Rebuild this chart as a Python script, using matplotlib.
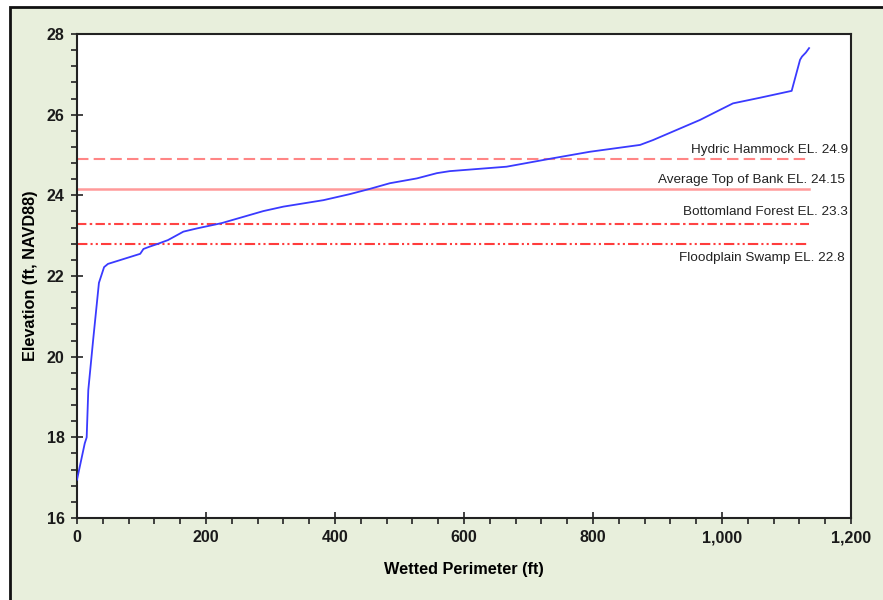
import matplotlib
matplotlib.use("Agg")
import matplotlib.pyplot as plt
from matplotlib.patches import Rectangle
from matplotlib.ticker import MultipleLocator, FuncFormatter

plt.rcParams['font.family'] = ['Liberation Sans', 'DejaVu Sans']

# wetted perimeter (ft) vs elevation (ft, NAVD88)
perimeter = [0, 12, 15, 17.5, 25, 34, 42, 48, 98, 103, 113, 124, 141, 165, 186,
             224, 289, 320, 382, 423, 454, 485, 527, 558, 578, 666, 738, 795,
             873, 893, 966, 997, 1017, 1059, 1108, 1121, 1124, 1130, 1135]
elevation = [16.95, 17.85, 18.0, 19.17, 20.41, 21.83, 22.22, 22.3, 22.55, 22.67,
             22.73, 22.79, 22.89, 23.1, 23.18, 23.31, 23.61, 23.72, 23.88, 24.03,
             24.16, 24.3, 24.42, 24.55, 24.6, 24.71, 24.92, 25.08, 25.25, 25.37,
             25.87, 26.12, 26.28, 26.42, 26.59, 27.36, 27.44, 27.54, 27.65]

# reference elevations
ref_names = ['Hydric Hammock EL. 24.9', 'Average Top of Bank EL. 24.15',
             'Bottomland Forest EL. 23.3', 'Floodplain Swamp EL. 22.8']
ref_levels = [24.9, 24.15, 23.3, 22.8]
ref_end = [1130, 1135, 1135, 1132]
ref_label_y = [25.12, 24.38, 23.58, 22.45]
ref_label_x = [1195, 1190, 1195, 1190]
ref_colors = ['#ff8585', '#ff9a9a', '#ff4444', '#ff3c3c']
ref_styles = [(0, (5.5, 2.5)), '-', (0, (4.5, 1.6, 1.2, 1.6)),
              (0, (5, 1.5, 1, 1.5, 1, 1.5))]
ref_widths = [1.5, 1.8, 1.5, 1.5]

fig = plt.figure(figsize=(8.83, 6.0), dpi=100, facecolor='white')
fig.patches.append(Rectangle((10 / 883, -0.05), 1.0, 1 - 7 / 600 + 0.05,
                             transform=fig.transFigure, facecolor='#e8efdc',
                             edgecolor='#111111', linewidth=2, zorder=-10))

ax = fig.add_axes([77 / 883, 82 / 600, 774 / 883, 484 / 600])
ax.set_facecolor('white')

for name, lvl, xe, ly, lx, c, ls, lw in zip(ref_names, ref_levels, ref_end, ref_label_y,
                                              ref_label_x, ref_colors, ref_styles, ref_widths):
    ax.plot([0, xe], [lvl, lvl], color=c, linestyle=ls, linewidth=lw, zorder=2)
    ax.text(lx, ly, name, ha='right', va='center', fontsize=9.7, color='#222222')

ax.plot(perimeter, elevation, color='#3a3aff', linewidth=1.3, zorder=3)

ax.set_xlim(0, 1200)
ax.set_ylim(16, 28)
ax.xaxis.set_major_locator(MultipleLocator(200))
ax.xaxis.set_minor_locator(MultipleLocator(40))
ax.yaxis.set_major_locator(MultipleLocator(2))
ax.yaxis.set_minor_locator(MultipleLocator(0.4))
ax.xaxis.set_major_formatter(FuncFormatter(lambda v, p: f'{int(v):,}'))
ax.yaxis.set_major_formatter(FuncFormatter(lambda v, p: f'{int(v)}'))

ax.tick_params(which='major', direction='inout', length=8, width=1.2, color='#222222',
               labelsize=11.5, labelcolor='#1a1a1a', pad=5)
ax.tick_params(which='minor', direction='out', length=4.2, width=1.2, color='#222222')
for lab in ax.get_xticklabels() + ax.get_yticklabels():
    lab.set_fontweight('bold')
for sp in ax.spines.values():
    sp.set_linewidth(1.5)
    sp.set_color('#222222')

ax.set_xlabel('Wetted Perimeter (ft)', fontsize=11.7, fontweight='bold', labelpad=12)
ax.set_ylabel('Elevation (ft, NAVD88)', fontsize=11.7, fontweight='bold', labelpad=6)

fig.savefig('out.png', dpi=100)
